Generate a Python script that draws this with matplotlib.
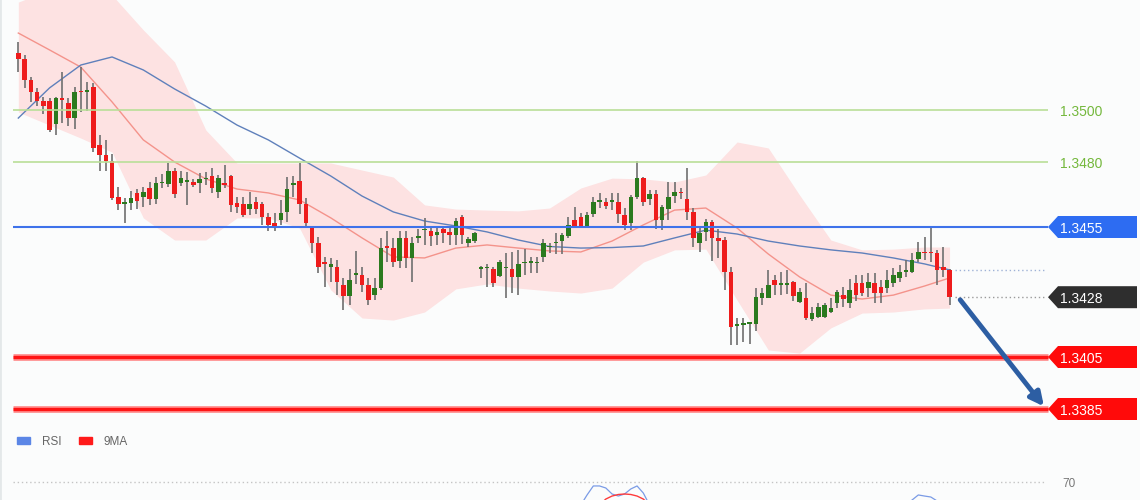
import numpy as np
import matplotlib.pyplot as plt
from matplotlib.patches import Polygon, Patch

plt.rcParams['font.family'] = ['Liberation Sans', 'DejaVu Sans']

# hourly candles
opens = [1.35218, 1.35196, 1.35115, 1.35068, 1.35036, 1.35036, 1.34946, 1.35047, 1.35026, 1.34968,
         1.35070, 1.35068, 1.35087, 1.34865, 1.34827, 1.34805, 1.34667, 1.34637, 1.34643, 1.34680,
         1.34667, 1.34699, 1.34657, 1.34718, 1.34715, 1.34765, 1.34718, 1.34724, 1.34724, 1.34718,
         1.34733, 1.34746, 1.34686, 1.34715, 1.34746, 1.34641, 1.34637, 1.34618, 1.34647, 1.34638,
         1.34587, 1.34567, 1.34577, 1.34607, 1.34712, 1.34727, 1.34638, 1.34545, 1.34487, 1.34417,
         1.34397, 1.34397, 1.34327, 1.34286, 1.34367, 1.34365, 1.34327, 1.34288, 1.34314, 1.34477,
         1.34468, 1.34420, 1.34507, 1.34430, 1.34507, 1.34538, 1.34536, 1.34519, 1.34541, 1.34530,
         1.34519, 1.34590, 1.34490, 1.34497, 1.34388, 1.34391, 1.34387, 1.34362, 1.34391, 1.34387,
         1.34357, 1.34410, 1.34410, 1.34410, 1.34436, 1.34472, 1.34487, 1.34497, 1.34515, 1.34577,
         1.34587, 1.34550, 1.34600, 1.34647, 1.34647, 1.34647, 1.34647, 1.34596, 1.34564, 1.34667,
         1.34737, 1.34657, 1.34677, 1.34577, 1.34618, 1.34669, 1.34686, 1.34657, 1.34609, 1.34487,
         1.34529, 1.34570, 1.34507, 1.34500, 1.34378, 1.34169, 1.34173, 1.34177, 1.34177, 1.34276,
         1.34276, 1.34347, 1.34327, 1.34327, 1.34338, 1.34263, 1.34278, 1.34196, 1.34205, 1.34205,
         1.34224, 1.34257, 1.34288, 1.34257, 1.34333, 1.34333, 1.34314, 1.34336, 1.34320, 1.34314,
         1.34333, 1.34353, 1.34378, 1.34378, 1.34426, 1.34455, 1.34455, 1.34449, 1.34397, 1.34385]
highs = [1.35263, 1.35212, 1.35128, 1.35086, 1.35051, 1.35045, 1.35051, 1.35145, 1.35045, 1.35087,
         1.35167, 1.35109, 1.35103, 1.34904, 1.34885, 1.34831, 1.34705, 1.34660, 1.34690, 1.34695,
         1.34703, 1.34724, 1.34741, 1.34754, 1.34795, 1.34776, 1.34767, 1.34763, 1.34733, 1.34759,
         1.34763, 1.34776, 1.34750, 1.34788, 1.34750, 1.34667, 1.34667, 1.34686, 1.34667, 1.34647,
         1.34603, 1.34603, 1.34654, 1.34743, 1.34746, 1.34795, 1.34660, 1.34549, 1.34513, 1.34436,
         1.34430, 1.34423, 1.34353, 1.34388, 1.34458, 1.34397, 1.34353, 1.34353, 1.34507, 1.34536,
         1.34507, 1.34536, 1.34536, 1.34510, 1.34541, 1.34583, 1.34545, 1.34545, 1.34551, 1.34545,
         1.34583, 1.34596, 1.34513, 1.34530, 1.34400, 1.34408, 1.34395, 1.34423, 1.34449, 1.34455,
         1.34462, 1.34464, 1.34433, 1.34436, 1.34503, 1.34487, 1.34526, 1.34528, 1.34587, 1.34627,
         1.34604, 1.34609, 1.34667, 1.34680, 1.34660, 1.34680, 1.34680, 1.34622, 1.34673, 1.34805,
         1.34743, 1.34692, 1.34692, 1.34635, 1.34724, 1.34724, 1.34699, 1.34776, 1.34623, 1.34545,
         1.34581, 1.34577, 1.34542, 1.34510, 1.34397, 1.34199, 1.34199, 1.34186, 1.34315, 1.34317,
         1.34385, 1.34365, 1.34377, 1.34385, 1.34343, 1.34314, 1.34333, 1.34243, 1.34259, 1.34257,
         1.34276, 1.34308, 1.34320, 1.34349, 1.34365, 1.34365, 1.34372, 1.34372, 1.34346, 1.34385,
         1.34391, 1.34404, 1.34423, 1.34449, 1.34493, 1.34513, 1.34545, 1.34462, 1.34474, 1.34387]
lows = [1.35147, 1.35086, 1.35032, 1.35017, 1.34985, 1.34914, 1.34904, 1.34949, 1.34940, 1.34927,
        1.34993, 1.34996, 1.34837, 1.34767, 1.34765, 1.34654, 1.34615, 1.34564, 1.34615, 1.34618,
        1.34628, 1.34635, 1.34638, 1.34699, 1.34703, 1.34660, 1.34708, 1.34635, 1.34703, 1.34680,
        1.34712, 1.34682, 1.34660, 1.34699, 1.34609, 1.34605, 1.34590, 1.34596, 1.34600, 1.34558,
        1.34536, 1.34536, 1.34558, 1.34570, 1.34667, 1.34600, 1.34549, 1.34449, 1.34374, 1.34320,
        1.34340, 1.34288, 1.34231, 1.34250, 1.34331, 1.34301, 1.34250, 1.34269, 1.34308, 1.34417,
        1.34397, 1.34391, 1.34391, 1.34340, 1.34490, 1.34481, 1.34478, 1.34481, 1.34487, 1.34481,
        1.34481, 1.34485, 1.34474, 1.34488, 1.34354, 1.34320, 1.34318, 1.34357, 1.34276, 1.34297,
        1.34288, 1.34365, 1.34374, 1.34374, 1.34417, 1.34449, 1.34446, 1.34446, 1.34507, 1.34545,
        1.34546, 1.34545, 1.34590, 1.34622, 1.34618, 1.34615, 1.34567, 1.34538, 1.34538, 1.34657,
        1.34631, 1.34635, 1.34541, 1.34538, 1.34577, 1.34643, 1.34657, 1.34577, 1.34474, 1.34452,
        1.34496, 1.34419, 1.34430, 1.34308, 1.34098, 1.34096, 1.34109, 1.34100, 1.34150, 1.34250,
        1.34276, 1.34288, 1.34288, 1.34292, 1.34265, 1.34257, 1.34192, 1.34188, 1.34199, 1.34199,
        1.34218, 1.34237, 1.34243, 1.34237, 1.34265, 1.34285, 1.34282, 1.34257, 1.34257, 1.34295,
        1.34320, 1.34340, 1.34359, 1.34372, 1.34417, 1.34423, 1.34417, 1.34327, 1.34359, 1.34250]
closes = [1.35196, 1.35115, 1.35068, 1.35036, 1.35015, 1.34923, 1.35047, 1.35038, 1.34968, 1.35068,
          1.35068, 1.35077, 1.34853, 1.34827, 1.34805, 1.34663, 1.34637, 1.34647, 1.34660, 1.34650,
          1.34686, 1.34657, 1.34718, 1.34720, 1.34767, 1.34677, 1.34737, 1.34725, 1.34712, 1.34735,
          1.34734, 1.34699, 1.34737, 1.34712, 1.34635, 1.34628, 1.34596, 1.34638, 1.34618, 1.34590,
          1.34558, 1.34555, 1.34605, 1.34696, 1.34713, 1.34638, 1.34567, 1.34487, 1.34397, 1.34408,
          1.34408, 1.34337, 1.34286, 1.34346, 1.34369, 1.34327, 1.34269, 1.34317, 1.34468, 1.34468,
          1.34417, 1.34509, 1.34430, 1.34490, 1.34515, 1.34539, 1.34517, 1.34532, 1.34528, 1.34519,
          1.34574, 1.34519, 1.34504, 1.34526, 1.34396, 1.34392, 1.34336, 1.34417, 1.34392, 1.34357,
          1.34407, 1.34411, 1.34419, 1.34417, 1.34487, 1.34473, 1.34488, 1.34519, 1.34558, 1.34550,
          1.34554, 1.34596, 1.34647, 1.34648, 1.34631, 1.34648, 1.34600, 1.34558, 1.34664, 1.34737,
          1.34647, 1.34677, 1.34577, 1.34626, 1.34667, 1.34686, 1.34680, 1.34609, 1.34507, 1.34528,
          1.34570, 1.34507, 1.34497, 1.34378, 1.34167, 1.34177, 1.34175, 1.34178, 1.34282, 1.34297,
          1.34327, 1.34327, 1.34328, 1.34328, 1.34285, 1.34301, 1.34199, 1.34218, 1.34243, 1.34250,
          1.34237, 1.34301, 1.34272, 1.34308, 1.34288, 1.34296, 1.34340, 1.34295, 1.34295, 1.34346,
          1.34365, 1.34378, 1.34380, 1.34423, 1.34455, 1.34449, 1.34449, 1.34385, 1.34385, 1.34280]

# indicator values read every 5th candle
band_idx = list(range(0, 150, 5)) + [149]
ma_fast = [1.35296, 1.35231, 1.35165, 1.35031, 1.34885, 1.34800, 1.34735, 1.34696, 1.34681, 1.34654,
           1.34585, 1.34508, 1.34435, 1.34431, 1.34469, 1.34481, 1.34469, 1.34458, 1.34454, 1.34496,
           1.34558, 1.34615, 1.34623, 1.34546, 1.34446, 1.34358, 1.34288, 1.34273, 1.34288, 1.34323,
           1.34354]
ma_slow = [1.34969, 1.35085, 1.35173, 1.35204, 1.35154, 1.35081, 1.35015, 1.34942, 1.34885, 1.34815,
           1.34746, 1.34669, 1.34608, 1.34573, 1.34554, 1.34531, 1.34500, 1.34475, 1.34469, 1.34471,
           1.34477, 1.34508, 1.34538, 1.34523, 1.34496, 1.34477, 1.34462, 1.34450, 1.34431, 1.34408,
           1.34385]
bb_upper = [1.35415, 1.35462, 1.35481, 1.35442, 1.35308, 1.35185, 1.34923, 1.34796, 1.34796, 1.34796,
            1.34796, 1.34769, 1.34742, 1.34635, 1.34619, 1.34615, 1.34612, 1.34623, 1.34700, 1.34738,
            1.34735, 1.34723, 1.34750, 1.34877, 1.34854, 1.34673, 1.34500, 1.34462, 1.34465, 1.34473,
            1.34473]
bb_lower = [1.34992, 1.34942, 1.34892, 1.34838, 1.34585, 1.34500, 1.34500, 1.34585, 1.34585, 1.34546,
            1.34308, 1.34200, 1.34192, 1.34223, 1.34312, 1.34331, 1.34315, 1.34304, 1.34296, 1.34315,
            1.34415, 1.34462, 1.34465, 1.34269, 1.34077, 1.34065, 1.34162, 1.34219, 1.34223, 1.34235,
            1.34238]

# RSI pieces that poke above the bottom edge
rsi_a_idx = list(range(90, 102))
rsi_a = [50.8, 59.2, 66.7, 66.7, 65.0, 60.0, 58.3, 60.0, 64.2, 66.7, 60.8, 50.8]
rsi_ma_idx = list(range(93, 102))
rsi_ma = [50.8, 55.8, 58.3, 59.6, 60.0, 59.6, 58.3, 55.8, 50.8]
rsi_b_idx = list(range(142, 149))
rsi_b = [50.8, 55.0, 59.2, 58.3, 57.5, 54.2, 50.0]

green_levels = [1.3500, 1.3480]
pivot_level = 1.3455
red_levels = [1.3405, 1.3385]

bg = '#fbfcfc'
fig = plt.figure(figsize=(11.4, 5), dpi=100, facecolor=bg)
ax = fig.add_axes([0, 0.08, 1, 0.92])
ax2 = fig.add_axes([0, 0, 1, 0.076])
for a in (ax, ax2):
    a.set_facecolor(bg)
    a.set_xlim(-2.93, 179.47)
    a.set_xticks([])
    a.set_yticks([])
    for s in a.spines.values():
        s.set_visible(False)
    a.spines['left'].set_visible(True)
    a.spines['left'].set_color('#e4e8e9')
    a.spines['left'].set_linewidth(2)
ax.set_ylim(1.3365385, 1.3542308)
ax2.set_ylim(55, 86.67)

n = len(closes)
x = np.arange(n)
o = np.array(opens); h = np.array(highs); l = np.array(lows); c = np.array(closes)

# bollinger band + moving averages
ax.fill_between(band_idx, bb_lower, bb_upper, color='#fde2e2', lw=0, zorder=1)
ax.plot(band_idx, ma_fast, color='#f4938b', lw=1.0, zorder=2)
ax.plot(band_idx, ma_slow, color='#5f80bb', lw=1.0, zorder=2)

# candles
up = c >= o
ax.vlines(x, l, h, color='#6f6f6f', lw=1.2, zorder=3)
body_h = np.maximum(np.abs(c - o), 0.00006)
ax.bar(x[up], body_h[up], bottom=np.minimum(o, c)[up], width=0.72, color='#2b7a1e', zorder=4)
ax.bar(x[~up], body_h[~up], bottom=np.minimum(o, c)[~up], width=0.72, color='#ee1c1c', zorder=4)

# level lines
x0, x1 = -0.85, 164.75
for lv in green_levels:
    ax.hlines(lv, x0, x1, color='#b9df98', lw=1.2, zorder=5)
    ax.text(166.6, lv, f'{lv:.4f}', color='#74b83c', fontsize=10, va='center_baseline', ha='left')
ax.hlines(pivot_level, x0, x1, color='#3e72ea', lw=1.5, zorder=5)
for lv in red_levels:
    ax.hlines(lv, x0, x1, color='#ff9a9a', lw=5, zorder=5)
    ax.hlines(lv, x0, x1, color='#ff1414', lw=2.5, zorder=6)

# dotted guides to the last values
ax.hlines(closes[-1], n - 0.1, 164.3, color='#9a9a9a', lw=1, linestyles=(0, (1, 2)), zorder=5)
ax.hlines(ma_slow[-1], n - 0.1, 164.3, color='#9fb2d6', lw=1, linestyles=(0, (1, 2)), zorder=5)

# price tags (11 px half height, 2.6 px per pip)
half = 11 / 26000
def tag(level, color):
    pts = [(164.75, level), (166.35, level + half), (178.99, level + half),
           (178.99, level - half), (166.35, level - half)]
    ax.add_patch(Polygon(pts, closed=True, color=color, lw=0, zorder=7))
    ax.text(166.7, level, f'{level:.4f}', color='white', fontsize=10,
            va='center_baseline', ha='left', zorder=8)

tag(pivot_level, '#2d6cf2')
tag(round(closes[-1], 4), '#2e2e2e')
for lv in red_levels:
    tag(lv, '#ff0a0a')

# projection arrow
ax.annotate('', xy=(164.1, red_levels[1] + 0.0001), xytext=(n + 0.7, closes[-1] - 0.0001),
            arrowprops=dict(arrowstyle='-|>', lw=3.5, color='#2d5ea3', mutation_scale=20,
                            shrinkA=0, shrinkB=0), zorder=9)

# legend of lower panel
handles = [Patch(color='#5b86e6', label='RSI'), Patch(color='#ff1a1a', label='9MA')]
ax.legend(handles=handles, loc='center left', bbox_to_anchor=(0.015, 0.04), ncol=2,
          frameon=False, fontsize=8.5, handlelength=1.1, handleheight=0.5,
          handletextpad=1.0, columnspacing=1.5, borderpad=0, borderaxespad=0,
          labelcolor='#666666')

# RSI panel
ax2.hlines(70, x0, 164.3, color='#c4c4c4', lw=1, linestyles=(0, (1, 2)))
ax2.text(167.0, 70, '70', color='#777777', fontsize=8.5, va='center_baseline', ha='left')
ax2.plot(rsi_a_idx, rsi_a, color='#7a9be6', lw=0.9)
ax2.plot(rsi_b_idx, rsi_b, color='#7a9be6', lw=0.9)
ax2.plot(rsi_ma_idx, rsi_ma, color='#ff3b3b', lw=1.0)

fig.savefig('out.png', dpi=100, facecolor=bg)
